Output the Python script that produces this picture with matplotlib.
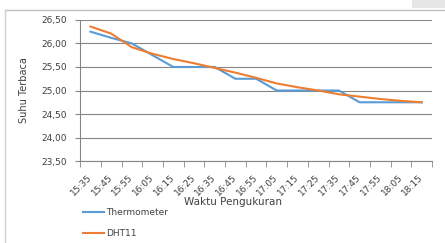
import matplotlib.pyplot as plt
import matplotlib.lines as mlines
import matplotlib.patches as mpatches
import numpy as np

plt.rcParams['font.family'] = ['DejaVu Sans']

waktu = ['15:35', '15:45', '15:55', '16:05', '16:15', '16:25', '16:35', '16:45', '16:55',
         '17:05', '17:15', '17:25', '17:35', '17:45', '17:55', '18:05', '18:15']
thermometer = [26.25, 26.12, 26.00, 25.75, 25.50, 25.50, 25.50, 25.25, 25.25,
               25.00, 25.00, 25.00, 25.00, 24.75, 24.75, 24.75, 24.75]
dht11 = [26.36, 26.21, 25.92, 25.78, 25.67, 25.58, 25.48, 25.38, 25.27,
         25.15, 25.07, 25.00, 24.92, 24.87, 24.82, 24.78, 24.75]
yticks = [23.5, 24.0, 24.5, 25.0, 25.5, 26.0, 26.5]

fig = plt.figure(figsize=(4.45, 2.43), dpi=100)
ax = fig.add_axes([0.180, 0.337, 0.791, 0.581])

x = np.arange(len(waktu))
ax.plot(x, thermometer, color='#5b9bd5', lw=1.5, label='Thermometer', zorder=3)
ax.plot(x, dht11, color='#ed7d31', lw=1.5, label='DHT11', zorder=3)

ax.set_xlim(-0.5, len(waktu) - 0.5)
ax.set_ylim(23.5, 26.5)
ax.set_yticks(yticks)
ax.set_yticklabels([f'{v:.2f}'.replace('.', ',') for v in yticks], fontsize=6.5, color='#404040')
ax.yaxis.grid(True, color='#868686', lw=0.8)
ax.set_axisbelow(True)

ax.set_xticks(x)
ax.set_xticklabels(waktu, rotation=45, ha='right', va='center', rotation_mode='anchor',
                   fontsize=6.5, color='#404040')
ax.set_xticks(np.arange(-0.5, len(waktu)), minor=True)
ax.tick_params(axis='x', which='major', length=0, pad=10.5)
ax.tick_params(axis='x', which='minor', length=4, color='#868686')
ax.tick_params(axis='y', length=3.6, color='#868686', pad=6)

for s in ['top', 'right']:
    ax.spines[s].set_visible(False)
for s in ['left', 'bottom']:
    ax.spines[s].set_color('#868686')
    ax.spines[s].set_linewidth(0.8)

ax.set_ylabel('Suhu Terbaca', fontsize=7, labelpad=9, color='#404040')
fig.text(0.524, 0.17, 'Waktu Pengukuran', fontsize=7.5, ha='center', va='center', color='#404040')

fig.legend(loc='upper left', bbox_to_anchor=(0.178, 0.158), frameon=False,
           fontsize=6.5, handlelength=2.4, handletextpad=0.15, labelspacing=1.35,
           borderaxespad=0, labelcolor='#404040')

# chart frame and screenshot remnant
fig.add_artist(mlines.Line2D([0.011, 1.0], [0.96, 0.96], color='#bfbfbf', lw=1))
fig.add_artist(mlines.Line2D([0.011, 0.011], [0.0, 0.96], color='#d0d0d0', lw=1))
fig.add_artist(mpatches.Rectangle((0.925, 0.968), 0.075, 0.032, transform=fig.transFigure,
                                  color='#e6e6e6', lw=0))

fig.savefig('out.png', dpi=100)
